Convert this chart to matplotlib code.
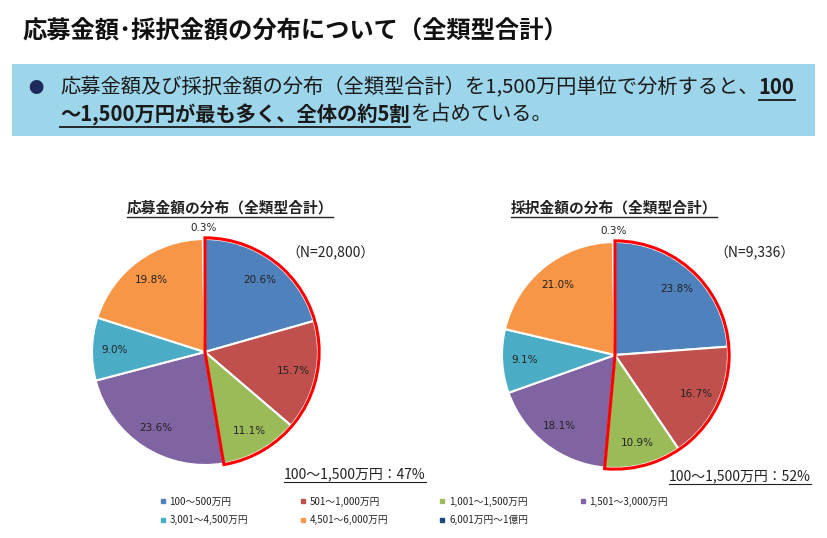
import matplotlib
matplotlib.use('Agg')
import matplotlib.pyplot as plt
from matplotlib.patches import Wedge, Rectangle
from matplotlib.lines import Line2D
import numpy as np

plt.rcParams['font.family'] = ['Noto Sans CJK JP', 'DejaVu Sans']

# data
categories = ['100～500万円', '501～1,000万円', '1,001～1,500万円', '1,501～3,000万円',
              '3,001～4,500万円', '4,501～6,000万円', '6,001万円～1億円']
oubo = [20.6, 15.7, 11.1, 23.6, 9.0, 19.8, 0.3]
saitaku = [23.8, 16.7, 10.9, 18.1, 9.1, 21.0, 0.3]
colors = ['#4F81BD', '#C0504D', '#9BBB59', '#8064A2', '#4BACC6', '#F79646', '#1F497D']
n_labels = ['（N=20,800）', '（N=9,336）']
share_labels = ['100～1,500万円：47%', '100～1,500万円：52%']
sub_titles = ['応募金額の分布（全類型合計）', '採択金額の分布（全類型合計）']

W, H = 827, 538
fig = plt.figure(figsize=(W / 100, H / 100), dpi=100)
fig.patch.set_facecolor('white')
renderer = fig.canvas.get_renderer()


def fx(px):
    return px / W


def fy(py):
    return 1 - py / H


def underline(t, lw=1.0, pad=2):
    bb = t.get_window_extent(renderer)
    yy = (bb.y0 - pad) / H
    fig.add_artist(Line2D([bb.x0 / W, bb.x1 / W], [yy, yy], color=t.get_color(), lw=lw))


def runs(x, y, parts, size):
    # lay out text pieces one after another, bold/underline as needed
    for txt, bold, under in parts:
        t = fig.text(fx(x), fy(y), txt, fontsize=size, va='center', ha='left',
                     weight='bold' if bold else 'normal', color='#1a1a1a')
        bb = t.get_window_extent(renderer)
        if under:
            underline(t, lw=1.3, pad=1)
        x = bb.x1


# title
fig.text(fx(22), fy(32), '応募金額･採択金額の分布について（全類型合計）', fontsize=17.5,
         weight='bold', va='center', ha='left', color='#111111')

# blue box
fig.add_artist(Rectangle((fx(12), fy(136)), fx(803), (136 - 64) / H,
                         transform=fig.transFigure, facecolor='#9DD5EA', edgecolor='none'))
fig.text(fx(36), fy(88), '●', fontsize=11, color='#1F2A5C', va='center', ha='center')
runs(60, 88, [('応募金額及び採択金額の分布（全類型合計）を1,500万円単位で分析すると、', False, False),
              ('100', True, True)], 14.6)
runs(60, 115, [('～1,500万円が最も多く、全体の約5割', True, True),
               ('を占めている。', False, False)], 14.6)

R_PX = 113
pies = [(oubo, 205, 352, 230, n_labels[0], 330, 253, share_labels[0], 355, 474),
        (saitaku, 615, 355, 614, n_labels[1], 755, 253, share_labels[1], 740, 476)]

for i, (vals, cx, cy, tx, nl, nx, ny, sl, sx, sy) in enumerate(pies):
    half = 130
    ax = fig.add_axes([fx(cx - half), fy(cy + half), 2 * half / W, 2 * half / H])
    lim = half / R_PX
    wedges, _ = ax.pie(vals, colors=colors, startangle=90, counterclock=False,
                       wedgeprops=dict(edgecolor='white', linewidth=1.5))
    for w, v in zip(wedges, vals):
        mid = np.deg2rad((w.theta1 + w.theta2) / 2)
        d = 1.1 if v < 1 else 0.8
        ax.text(d * np.cos(mid), d * np.sin(mid), f'{v:.1f}%', ha='center', va='center',
                fontsize=7.5, color='#222222', family='DejaVu Sans')
    # red outline around the first three slices
    ax.add_patch(Wedge((0, 0), 1.01, wedges[2].theta1, wedges[0].theta2, fill=False,
                       edgecolor='red', linewidth=2.2))
    ax.set_xlim(-lim, lim)
    ax.set_ylim(-lim, lim)
    ax.set_aspect('equal')
    ax.axis('off')

    t = fig.text(fx(tx), fy(208), sub_titles[i], fontsize=10.6, weight='bold',
                 ha='center', va='center', color='#222222')
    underline(t, lw=1.0, pad=1)
    fig.text(fx(nx), fy(ny), nl, fontsize=10, ha='center', va='center', color='#222222')
    t = fig.text(fx(sx), fy(sy), sl, fontsize=10, ha='center', va='center', color='#222222')
    underline(t, lw=0.8, pad=1)

# legend, row-major order
handles = [Line2D([], [], marker='s', ls='none', color=c, markersize=3.5) for c in colors]
order = [0, 4, 1, 5, 2, 6, 3]
fig.legend([handles[k] for k in order], [categories[k] for k in order], ncol=4,
           loc='upper left', bbox_to_anchor=(fx(150), fy(488)), frameon=False,
           fontsize=7, handlelength=0.8, handletextpad=0.3, columnspacing=5.2,
           labelspacing=0.85, labelcolor='#222222')

fig.savefig('out.png', dpi=100)
